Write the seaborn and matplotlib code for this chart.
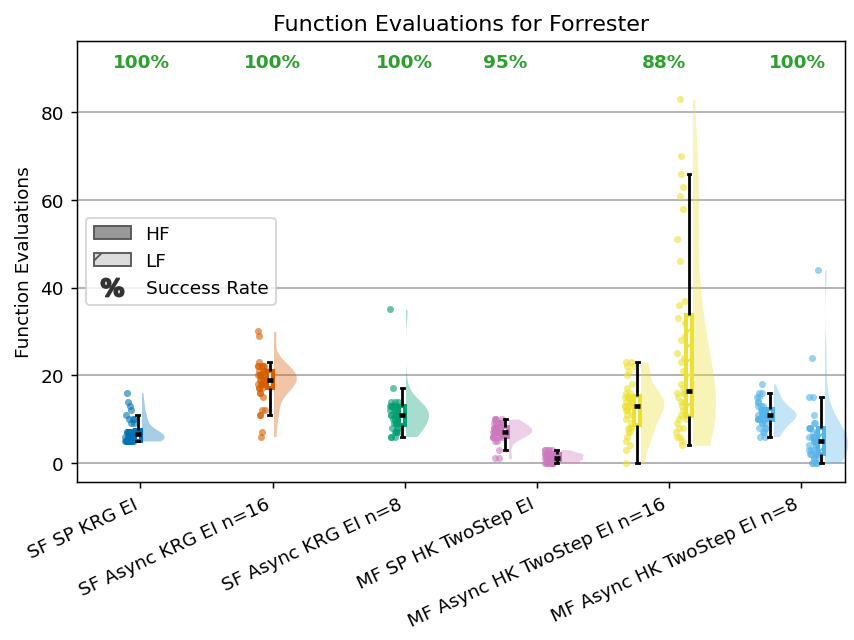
import numpy as np
import matplotlib
matplotlib.use("Agg")
import matplotlib.pyplot as plt
from matplotlib.patches import Patch, Rectangle
from matplotlib.lines import Line2D
import seaborn as sns

# Methods compared on the Forrester function
methods = [
    "SF SP KRG EI",
    "SF Async KRG EI n=16",
    "SF Async KRG EI n=8",
    "MF SP HK TwoStep EI",
    "MF Async HK TwoStep EI n=16",
    "MF Async HK TwoStep EI n=8",
]
colors = ["#0173B2", "#D55E00", "#029E73", "#CC78BC", "#ECE133", "#56B4E9"]
success_rate = [100, 100, 100, 95, 88, 100]

# High-fidelity function evaluations per run
hf_evals = [
    [5, 5, 5, 5, 5, 5, 5, 5, 5, 5, 5, 6, 6, 6, 6, 6, 6, 6, 6, 6,
     7, 7, 7, 7, 7, 7, 7, 7, 7, 7, 9, 9, 10, 10, 10, 11, 12, 13, 14, 16],
    [6, 7, 11, 11, 12, 12, 15, 16, 16, 17, 17, 17, 18, 18, 18, 18, 18, 18, 19, 19,
     19, 19, 19, 20, 20, 20, 20, 20, 21, 21, 21, 21, 22, 22, 22, 22, 22, 23, 29, 30],
    [6, 6, 6, 7, 7, 7, 7, 8, 8, 8, 9, 9, 9, 9, 10, 10, 10, 10, 11, 11,
     11, 11, 11, 11, 12, 12, 12, 12, 12, 13, 13, 13, 13, 13, 13, 14, 14, 14, 17, 35],
    [1, 1, 3, 5, 5, 6, 6, 6, 6, 6, 6, 7, 7, 7, 7, 7, 7, 7, 7, 7,
     7, 8, 8, 8, 8, 8, 8, 8, 8, 8, 9, 9, 9, 9, 9, 9, 10, 10, 10, 10],
    [0, 3, 4, 5, 6, 7, 7, 8, 8, 8, 9, 10, 11, 11, 12, 12, 12, 13, 13, 13,
     13, 14, 14, 14, 14, 14, 15, 15, 15, 15, 16, 16, 17, 18, 20, 21, 22, 22, 23, 23],
    [6, 6, 7, 7, 8, 8, 8, 9, 9, 9, 10, 10, 10, 10, 10, 10, 11, 11, 11, 11,
     11, 11, 11, 11, 12, 12, 12, 12, 12, 12, 13, 13, 13, 14, 14, 15, 15, 16, 16, 18],
]

# Low-fidelity function evaluations per run (multi-fidelity methods only)
lf_evals = [
    None,
    None,
    None,
    [0, 0, 0, 0, 0, 0, 0, 0, 0, 0, 1, 1, 1, 1, 1, 1, 1, 1, 1, 1,
     1, 1, 2, 2, 2, 2, 2, 2, 2, 2, 2, 2, 2, 2, 2, 3, 3, 3, 3, 3],
    [4, 5, 6, 6, 7, 8, 8, 9, 10, 10, 11, 11, 12, 13, 14, 14, 15, 16, 16, 16,
     17, 18, 21, 23, 24, 25, 28, 29, 32, 33, 36, 37, 46, 51, 58, 61, 63, 66, 70, 83],
    [0, 0, 0, 0, 1, 1, 1, 2, 2, 2, 2, 3, 3, 3, 3, 4, 4, 4, 5, 5,
     5, 5, 6, 6, 6, 6, 7, 7, 7, 8, 8, 8, 8, 9, 9, 11, 15, 15, 24, 44],
]

np.random.seed(3)

fig, ax = plt.subplots(figsize=(6.4, 4.8), dpi=133.5)
fig.subplots_adjust(left=0.09, right=0.989, top=0.935, bottom=0.247)

ax.set_axisbelow(True)
ax.grid(axis="y", color="#b0b0b0", linewidth=1.0)


def raincloud(pos, values, color, hatch=None):
    vals = np.asarray(values, dtype=float)
    n = len(vals)

    # half violin to the right of the box
    vpos = pos + 0.03
    before = len(ax.collections)
    sns.violinplot(x=np.full(n, vpos), y=vals, native_scale=True, color=color,
                   saturation=1, density_norm="width", cut=0, inner=None,
                   width=0.34, linewidth=0, alpha=0.35, ax=ax)
    clip = Rectangle((vpos, -1000), 1000, 3000, transform=ax.transData)
    for coll in ax.collections[before:]:
        coll.set_clip_path(clip)
        coll.set_zorder(1)

    # raw runs as jittered points to the left of the box
    sns.stripplot(x=np.full(n, pos - 0.06), y=vals, native_scale=True,
                  jitter=0.035, color=color, alpha=0.6, size=3.8,
                  linewidth=0, zorder=2, ax=ax)

    # narrow box with whiskers
    boxprops = dict(facecolor="white", edgecolor=color, linewidth=2.2)
    if hatch:
        boxprops["hatch"] = hatch
    sns.boxplot(x=np.full(n, pos), y=vals, native_scale=True, width=0.045,
                showfliers=False, boxprops=boxprops,
                whiskerprops=dict(color="black", linewidth=1.5),
                capprops=dict(color="black", linewidth=1.5),
                medianprops=dict(color="black", linewidth=2.5),
                zorder=3, ax=ax)


for i, (name, color) in enumerate(zip(methods, colors)):
    if lf_evals[i] is None:
        raincloud(i - 0.02, hf_evals[i], color)
    else:
        raincloud(i - 0.24, hf_evals[i], color)
        raincloud(i + 0.15, lf_evals[i], color, hatch="///")

# success-rate labels sit above each group
label_shift = [0.01, 0.0, 0.0, -0.24, -0.035, -0.03]
for i, rate in enumerate(success_rate):
    ax.text(i + label_shift[i], 91.5, f"{rate}%", ha="center", va="center",
            color="#2ca02c", fontsize=10, fontweight="bold")

ax.set_xticks(range(len(methods)))
ax.set_xticklabels(methods, rotation=25, ha="right")
ax.set_xlim(-0.48, 5.33)
ax.set_ylim(-4.3, 96.3)
ax.set_yticks([0, 20, 40, 60, 80])
ax.set_xlabel("")
ax.set_ylabel("Function Evaluations")
ax.set_title("Function Evaluations for Forrester")

handles = [
    Patch(facecolor="#999999", edgecolor="#555555", label="HF"),
    Patch(facecolor="#dddddd", edgecolor="#555555", hatch="/", label="LF"),
    Line2D([], [], marker=r"$\mathbf{\%}$", linestyle="None", color="#333333",
           markersize=12, label="Success Rate"),
]
ax.legend(handles=handles, loc="center left")

fig.savefig("out.png", dpi=133.5)
